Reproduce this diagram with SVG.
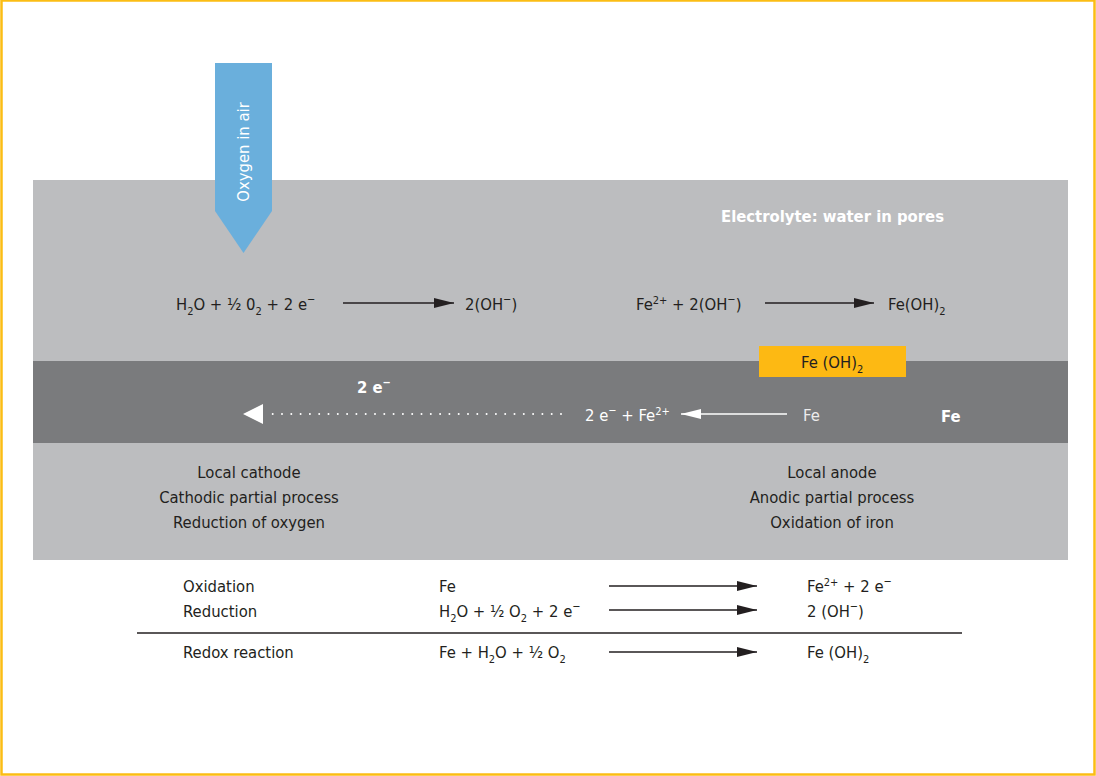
<svg xmlns="http://www.w3.org/2000/svg" width="1096" height="776" viewBox="0 0 1096 776">
<style>
text{font-family:"Liberation Sans Narrow","DejaVu Sans Condensed","Roboto",sans-serif;font-size:16.5px;fill:#231f20}
.w{fill:#ffffff}
.b{font-weight:bold}
.c{text-anchor:middle}
.sub{font-size:11px}
.sup{font-size:11px}
.ln{stroke:#231f20;stroke-width:1.3;fill:none}
.wl{stroke:#ffffff;stroke-width:1.3;fill:none}
.dot{stroke:#ffffff;stroke-width:2;stroke-dasharray:0 9.3;stroke-linecap:round;fill:none}
</style>
<defs>
<marker id="ah" viewBox="0 0 20 10" refX="20" refY="5" markerWidth="20" markerHeight="10" markerUnits="userSpaceOnUse" orient="auto"><path d="M0,0 L20,5 L0,10 z" fill="#231f20"/></marker>
<marker id="wh" viewBox="0 0 20 10" refX="20" refY="5" markerWidth="20" markerHeight="10" markerUnits="userSpaceOnUse" orient="auto"><path d="M0,0 L20,5 L0,10 z" fill="#ffffff"/></marker>
</defs>
<rect x="1.5" y="0.5" width="1093" height="774" fill="#ffffff" stroke="#fbbd14" stroke-width="2.5"/>
<g id="electrolyte">
<rect x="33" y="180" width="1035" height="380" fill="#bcbdbf"/>
<text class="w b" x="721" y="222">Electrolyte: water in pores</text>
</g>
<g id="steel">
<rect x="33" y="361" width="1035" height="82" fill="#7a7b7d"/>
<text class="w b" x="941" y="422">Fe</text>
</g>
<g id="oxygen">
<path d="M215,63 H272 V211 L243.5,253 L215,211 Z" fill="#6aafdc"/>
<text class="w" transform="translate(249,152) rotate(-90)" text-anchor="middle">Oxygen in air</text>
</g>
<g id="rust">
<rect x="759" y="346" width="147" height="31" fill="#fdb913"/>
<text x="801" y="368">Fe (OH)<tspan class="sub" dy="5">2</tspan></text>
</g>
<g id="cathode-reaction">
<text x="176" y="310">H<tspan class="sub" dy="5">2</tspan><tspan dy="-5">O + ½ 0</tspan><tspan class="sub" dy="5">2</tspan><tspan dy="-5"> + 2 e</tspan><tspan class="sup" dy="-7">−</tspan></text>
<text x="465" y="310">2(OH<tspan class="sup" dy="-7">−</tspan><tspan dy="7">)</tspan></text>
</g>
<g id="anode-reaction">
<text x="636" y="310">Fe<tspan class="sup" dy="-6">2+</tspan><tspan dy="6"> + 2(OH</tspan><tspan class="sup" dy="-7">−</tspan><tspan dy="7">)</tspan></text>
<text x="888" y="310">Fe(OH)<tspan class="sub" dy="5">2</tspan></text>
</g>
<g id="electrons">
<text class="w b" x="357" y="393">2 e<tspan class="sup" dy="-7">−</tspan></text>
<text class="w" x="585" y="421">2 e<tspan class="sup" dy="-7">−</tspan><tspan dy="7"> + Fe</tspan><tspan class="sup" dy="-6">2+</tspan></text>
<text x="803" y="421" style="fill:#ececec">Fe</text>
</g>
<g id="cathode-label">
<text class="c" x="249" y="478">Local cathode</text>
<text class="c" x="249" y="503">Cathodic partial process</text>
<text class="c" x="249" y="528">Reduction of oxygen</text>
</g>
<g id="anode-label">
<text class="c" x="832" y="478">Local anode</text>
<text class="c" x="832" y="503">Anodic partial process</text>
<text class="c" x="832" y="528">Oxidation of iron</text>
</g>
<g id="summary">
<text x="183" y="592">Oxidation</text>
<text x="183" y="617">Reduction</text>
<text x="183" y="658">Redox reaction</text>
<text x="439" y="592">Fe</text>
<text x="439" y="617">H<tspan class="sub" dy="5">2</tspan><tspan dy="-5">O + ½ O</tspan><tspan class="sub" dy="5">2</tspan><tspan dy="-5"> + 2 e</tspan><tspan class="sup" dy="-7">−</tspan></text>
<text x="439" y="658">Fe + H<tspan class="sub" dy="5">2</tspan><tspan dy="-5">O + ½ O</tspan><tspan class="sub" dy="5">2</tspan></text>
<text x="807" y="592">Fe<tspan class="sup" dy="-6">2+</tspan><tspan dy="6"> + 2 e</tspan><tspan class="sup" dy="-7">−</tspan></text>
<text x="807" y="617">2 (OH<tspan class="sup" dy="-7">−</tspan><tspan dy="7">)</tspan></text>
<text x="807" y="658">Fe (OH)<tspan class="sub" dy="5">2</tspan></text>
</g>
<g id="connectors">
<line class="ln" x1="343" y1="303" x2="454" y2="303" marker-end="url(#ah)"/>
<line class="ln" x1="765" y1="303" x2="874" y2="303" marker-end="url(#ah)"/>
<line class="wl" x1="787" y1="414" x2="681" y2="414" marker-end="url(#wh)"/>
<line class="dot" x1="561" y1="414" x2="266" y2="414"/>
<path d="M263,404 L243,414 L263,424 Z" fill="#ffffff"/>
<line class="ln" x1="609" y1="586" x2="757" y2="586" marker-end="url(#ah)"/>
<line class="ln" x1="609" y1="610" x2="757" y2="610" marker-end="url(#ah)"/>
<line class="ln" x1="609" y1="652" x2="757" y2="652" marker-end="url(#ah)"/>
<line x1="137" y1="633" x2="962" y2="633" stroke="#231f20" stroke-width="1.3"/>
</g>
</svg>
